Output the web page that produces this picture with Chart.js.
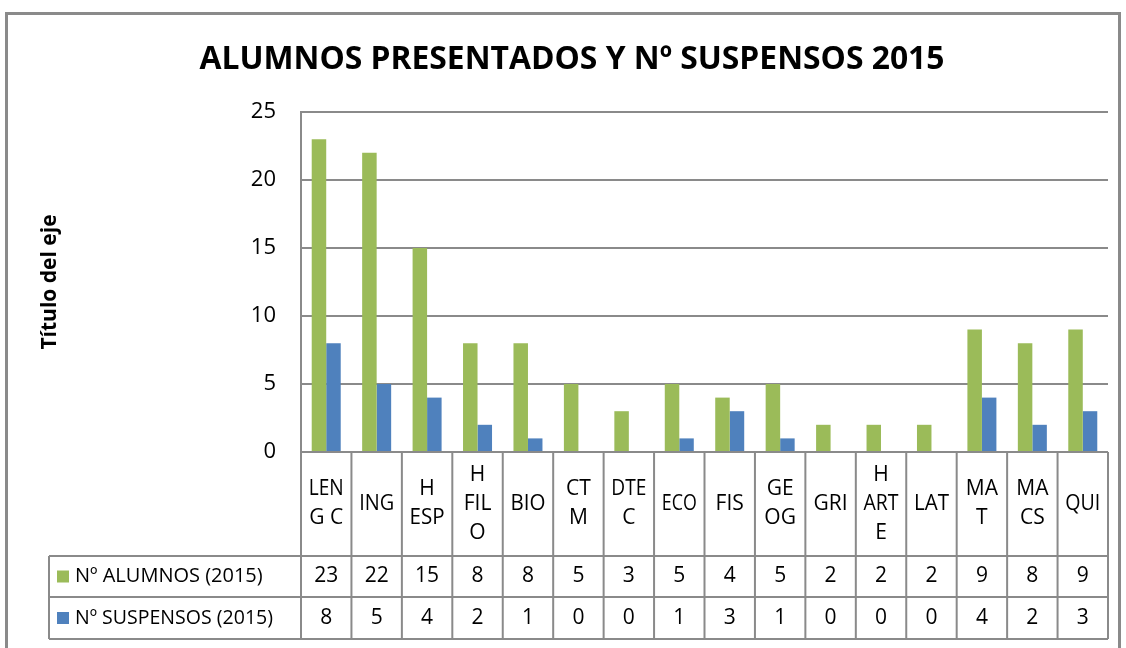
<!DOCTYPE html>
<html>
<head>
<meta charset="utf-8">
<script src="https://cdn.jsdelivr.net/npm/chart.js@4.4.0/dist/chart.umd.min.js"></script>
<style>
  body { margin: 0; background: #fff; }
  canvas { display: block; }
</style>
</head>
<body>
<canvas id="chart" width="1126" height="648"></canvas>
<script>
// Chart data
const categories = ['LENG C', 'ING', 'H ESP', 'H FILO', 'BIO', 'CTM', 'DTEC', 'ECO', 'FIS', 'GEOG', 'GRI', 'H ARTE', 'LAT', 'MAT', 'MACS', 'QUI'];
// how the category names wrap inside the table cells
const categoryLines = [['LEN', 'G C'], ['ING'], ['H', 'ESP'], ['H', 'FIL', 'O'], ['BIO'], ['CT', 'M'], ['DTE', 'C'], ['ECO'], ['FIS'], ['GE', 'OG'], ['GRI'], ['H', 'ART', 'E'], ['LAT'], ['MA', 'T'], ['MA', 'CS'], ['QUI']];
const alumnos = [23, 22, 15, 8, 8, 5, 3, 5, 4, 5, 2, 2, 2, 9, 8, 9];
const suspensos = [8, 5, 4, 2, 1, 0, 0, 1, 3, 1, 0, 0, 0, 4, 2, 3];
const yTicks = [0, 5, 10, 15, 20, 25];

const seriesNames = ['Nº ALUMNOS (2015)', 'Nº SUSPENSOS (2015)'];
const colors = ['#9BBB59', '#4F81BD'];
const lineColor = '#8a8a8a';
const font = '"Open Sans", "Noto Sans", sans-serif';

// Draws the title, axis title, data table and chart frame
const decorations = {
    id: 'decorations',
    afterDraw(chart) {
        const ctx = chart.ctx;
        const area = chart.chartArea;
        const x = chart.scales.x;
        const step = x.getPixelForValue(1) - x.getPixelForValue(0);
        const tableLeft = 49;
        const rows = [area.bottom, 556, 597, 639];

        ctx.save();

        // outer frame
        ctx.strokeStyle = lineColor;
        ctx.lineWidth = 3;
        ctx.strokeRect(6.5, 13.5, 1113, 700);

        // title
        ctx.fillStyle = '#000';
        ctx.textAlign = 'center';
        ctx.textBaseline = 'alphabetic';
        ctx.font = 'bold 33px ' + font;
        ctx.fillText('ALUMNOS PRESENTADOS Y Nº SUSPENSOS 2015', 572, 69, 745);

        // y axis title
        ctx.save();
        ctx.translate(56, (area.top + area.bottom) / 2);
        ctx.rotate(-Math.PI / 2);
        ctx.font = 'bold 21px ' + font;
        ctx.fillText('Título del eje', 0, 0, 142);
        ctx.restore();

        // table grid
        ctx.strokeStyle = lineColor;
        ctx.lineWidth = 2;
        ctx.beginPath();
        ctx.moveTo(area.left, rows[0]);
        ctx.lineTo(area.right, rows[0]);
        for (let r = 1; r < rows.length; r++) {
            ctx.moveTo(tableLeft, rows[r]);
            ctx.lineTo(area.right, rows[r]);
        }
        ctx.moveTo(tableLeft, rows[1]);
        ctx.lineTo(tableLeft, rows[3]);
        for (let i = 0; i <= categories.length; i++) {
            const bx = x.getPixelForValue(i) - step / 2;
            ctx.moveTo(bx, rows[0]);
            ctx.lineTo(bx, rows[3]);
        }
        ctx.stroke();

        // category labels
        ctx.fillStyle = '#000';
        ctx.textBaseline = 'middle';
        ctx.font = '21px ' + font;
        const labelMid = (rows[0] + rows[1]) / 2;
        categoryLines.forEach((lines, i) => {
            const cx = x.getPixelForValue(i);
            lines.forEach((line, j) => {
                const ly = labelMid + (j - (lines.length - 1) / 2) * 29;
                ctx.fillText(line, cx, ly, 35);
            });
        });

        // values and legend keys
        [alumnos, suspensos].forEach((values, s) => {
            const mid = (rows[s + 1] + rows[s + 2]) / 2;
            ctx.textAlign = 'center';
            ctx.font = '21px ' + font;
            values.forEach((v, i) => {
                ctx.fillText(String(v), x.getPixelForValue(i), mid);
            });
            ctx.fillStyle = colors[s];
            ctx.fillRect(57, mid - 6, 12, 12);
            ctx.fillStyle = '#000';
            ctx.textAlign = 'left';
            ctx.font = '20px ' + font;
            ctx.fillText(seriesNames[s], 75, mid, 198);
        });

        ctx.restore();
    }
};

const ctx = document.getElementById('chart').getContext('2d');
new Chart(ctx, {
    type: 'bar',
    data: {
        labels: categories,
        datasets: [
            { label: seriesNames[0], data: alumnos, backgroundColor: colors[0] },
            { label: seriesNames[1], data: suspensos, backgroundColor: colors[1] }
        ]
    },
    options: {
        responsive: false,
        animation: false,
        layout: { padding: { left: 0, top: 112, right: 18, bottom: 196 } },
        datasets: {
            bar: { categoryPercentage: 0.575, barPercentage: 1, borderWidth: 0 }
        },
        plugins: {
            legend: { display: false },
            title: { display: false },
            tooltip: { enabled: false }
        },
        scales: {
            x: { display: false },
            y: {
                min: yTicks[0],
                max: yTicks[yTicks.length - 1],
                afterFit(scale) { scale.width = 301; },
                afterBuildTicks(scale) { scale.ticks = yTicks.map(v => ({ value: v })); },
                ticks: {
                    color: '#000',
                    padding: 25,
                    font: { family: font, size: 22 }
                },
                grid: { color: lineColor, lineWidth: 2, drawTicks: false },
                border: { color: lineColor, width: 2 }
            }
        }
    },
    plugins: [decorations]
});
</script>
</body>
</html>
